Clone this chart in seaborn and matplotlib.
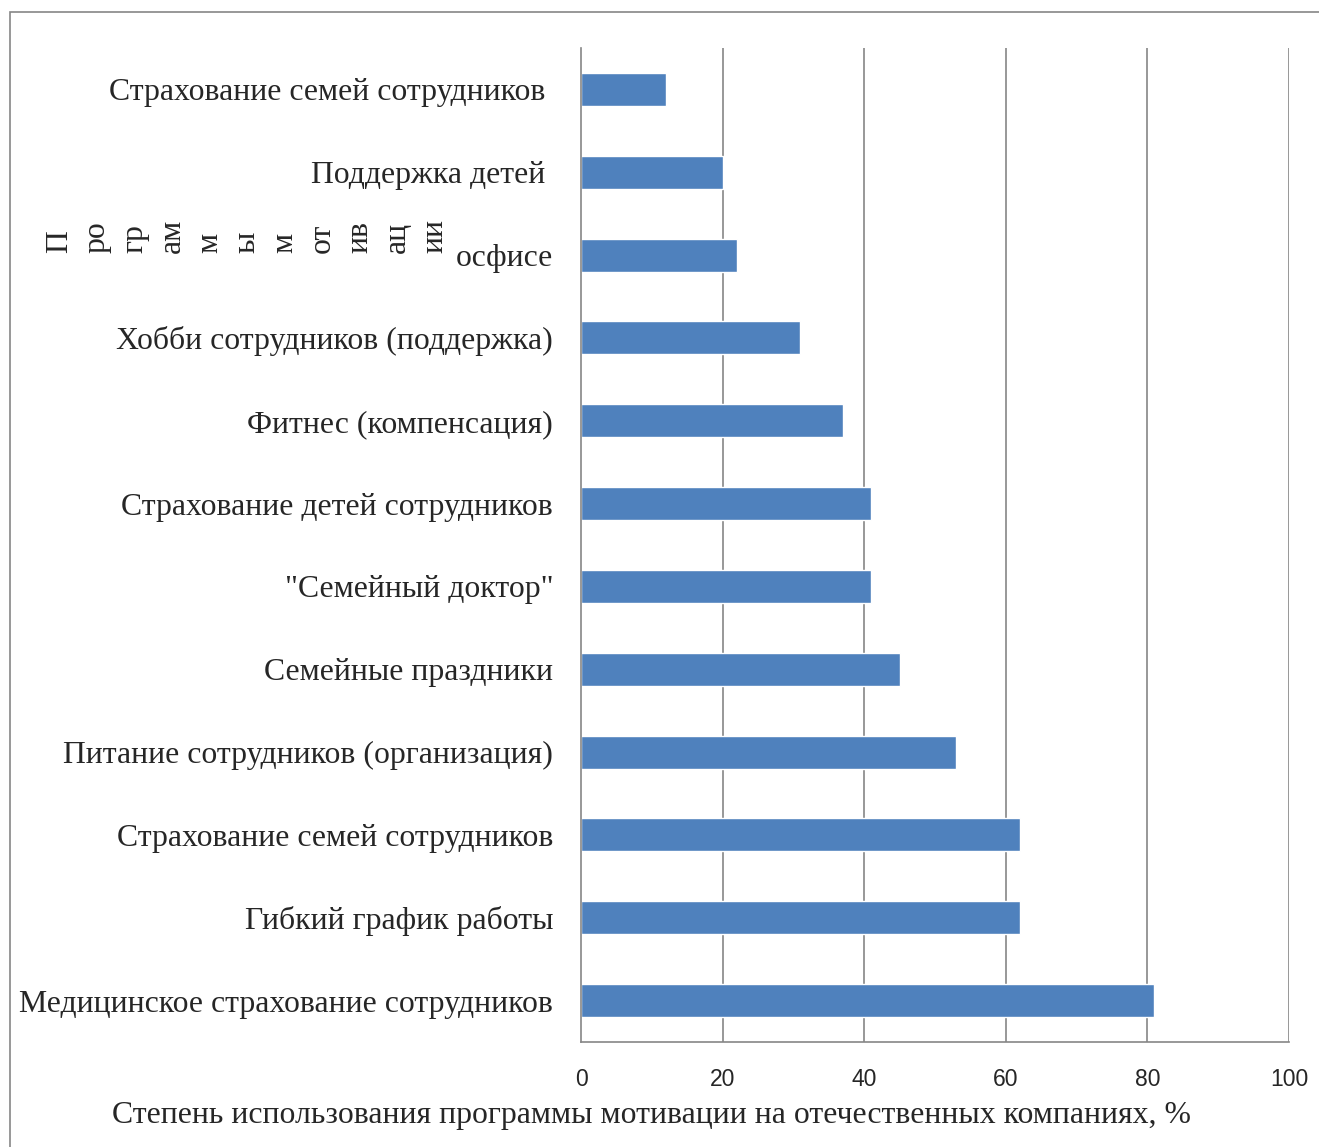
import numpy as np
import matplotlib
matplotlib.use("Agg")
import matplotlib.pyplot as plt
import seaborn as sns
import pandas as pd
from matplotlib.patches import Rectangle

# данные (сверху вниз)
programs = [
    "Страхование семей сотрудников ",
    "Поддержка детей ",
    "осфисе",
    "Хобби сотрудников (поддержка)",
    "Фитнес (компенсация)",
    "Страхование детей сотрудников",
    "\"Семейный доктор\"",
    "Семейные праздники",
    "Питание сотрудников (организация)",
    "Страхование семей сотрудников",
    "Гибкий график работы",
    "Медицинское страхование сотрудников",
]
usage = [12, 20, 22, 31, 37, 41, 41, 45, 53, 62, 62, 81]
x_ticks = [0, 20, 40, 60, 80, 100]

df = pd.DataFrame({"program": range(len(programs)), "usage": usage})

sns.set_style("white")
serif = ["Liberation Serif", "DejaVu Serif"]
narrow = ["Liberation Sans Narrow", "Liberation Sans", "DejaVu Sans"]
grey = "#868686"
fs = 22.9

W, H = 1319, 1147
fig = plt.figure(figsize=(W / 100, H / 100), dpi=100)
ax = fig.add_axes([581 / W, 1 - 1042 / H, (1289 - 581) / W, (1042 - 48) / H])

sns.barplot(data=df, y="program", x="usage", orient="h", color="#4F81BD",
            width=0.4, saturation=1, ax=ax)

ax.set_xlim(0, 100)
ax.set_ylim(len(programs) - 0.5, -0.5)
ax.set_xticks(x_ticks)
ax.set_xticklabels([str(t) for t in x_ticks], family=narrow, fontsize=16.5)
ax.set_yticks(range(len(programs)))
ax.set_yticklabels(programs, family=serif, fontsize=fs, va="center_baseline")
ax.set_yticks(np.arange(-0.5, len(programs), 1), minor=True)
ax.tick_params(axis="y", which="major", length=0, pad=20)
ax.tick_params(axis="y", which="minor", length=7, width=1.2, color=grey, direction="out")
ax.tick_params(axis="x", length=6, width=1.2, color=grey, direction="out", pad=13)
ax.set_xlabel("")
ax.set_ylabel("")

for t in x_ticks[1:]:
    ax.axvline(t, color=grey, lw=1.2, zorder=0)
for s in ["top", "right"]:
    ax.spines[s].set_visible(False)
for s in ["left", "bottom"]:
    ax.spines[s].set_color(grey)
    ax.spines[s].set_linewidth(1.2)

# подпись оси X по центру рисунка
fig.text(651 / W, 1 - 1116 / H,
         "Степень использования программы мотивации на отечественных компаниях, %",
         family=serif, fontsize=fs, ha="center", va="center")

# подпись оси Y, разбитая на фрагменты
ylab = "\n".join(["П", "ро", "гр", "ам", "м", "ы", "м", "от", "ив", "ац", "ии"])
fig.text(45 / W, 1 - 253 / H, ylab, rotation=90, family=serif, fontsize=fs,
         ha="left", va="bottom", multialignment="left", linespacing=1.39)

# рамка рисунка
fig.patches.append(Rectangle((10 / W, -0.05), 1.1, 1 - 12 / H + 0.05,
                             transform=fig.transFigure, fill=False,
                             edgecolor=grey, lw=1.2))

fig.savefig("out.png", dpi=100)
